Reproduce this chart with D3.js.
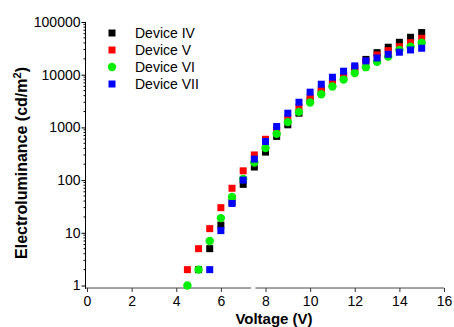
<!DOCTYPE html>
<html>
<head>
<meta charset="utf-8">
<script src="https://cdn.jsdelivr.net/npm/d3@7"></script>
<style>
  body { margin: 0; background: #fff; }
  text { font-family: "Liberation Sans", Arial, sans-serif; }
</style>
</head>
<body>
<svg class="el-chart" width="454" height="327"></svg>
<script>
// voltage steps (V)
var voltage = [4.5, 5, 5.5, 6, 6.5, 7, 7.5, 8, 8.5, 9, 9.5, 10, 10.5, 11, 11.5, 12, 12.5, 13, 13.5, 14, 14.5, 15];

// electroluminance (cd/m2), null = no point
var deviceIV  = [null, 2, 5, 14, 38, 83, 177, 340, 675, 1120, 1860, 3300, 4800, 6800, 9500, 13500, 19500, 26200, 33200, 41200, 51300, 63000];
var deviceV   = [2, 5, 12, 30, 70, 150, 300, 595, 900, 1500, 2420, 3750, 5310, 7220, 9490, 13200, 18000, 23700, 28600, 34000, 40500, 49200];
var deviceVI  = [1, 2, 7, 19, 48, 105, 216, 405, 755, 1260, 1970, 2960, 4270, 5960, 8080, 10800, 13900, 17500, 22000, 29500, 34000, 40500];
var deviceVII = [null, null, 2, 11, 36, 100, 250, 540, 1040, 1860, 3000, 4660, 6600, 8950, 11650, 14700, 18300, 20800, 24400, 26700, 29500, 31800];

var seriesNames = ["Device IV", "Device V", "Device VI", "Device VII"];
var seriesColors = ["#000000", "#ff0000", "#00ee00", "#0000ff"];
var seriesShapes = ["square", "square", "circle", "square"];

var xTicks = [0, 2, 4, 6, 8, 10, 12, 14, 16];
var yTicks = [1, 10, 100, 1000, 10000, 100000];

var svg = d3.select(".el-chart");

var x = d3.scaleLinear().domain([0, 16]).range([87, 444]);
var y = d3.scaleLog().domain([1, 100000]).range([285.5, 22]);

var axisY = 288;
var axisX = 85.5;

// y axis
var yAxis = d3.axisLeft(y)
    .tickValues(yTicks)
    .tickFormat(d3.format("d"))
    .tickSize(4)
    .tickSizeOuter(0);

var gy = svg.append("g")
    .attr("transform", "translate(" + axisX + ",0)")
    .call(yAxis);
gy.select(".domain").remove();
gy.selectAll("text").attr("font-size", 14).attr("fill", "#000").attr("x", -5);

// minor log ticks
var minor = [];
yTicks.slice(0, -1).forEach(function(d) {
    for (var k = 2; k < 10; k++) minor.push(d * k);
});
gy.selectAll(".minor")
    .data(minor)
    .enter().append("line")
    .attr("class", "minor")
    .attr("x1", -2).attr("x2", 0)
    .attr("y1", function(d) { return y(d); })
    .attr("y2", function(d) { return y(d); })
    .attr("stroke", "#000");

gy.append("line")
    .attr("x1", 0).attr("x2", 0)
    .attr("y1", y(100000)).attr("y2", axisY + 1)
    .attr("stroke", "#000");

// x axis (with a small break near 7.5 V)
var xAxis = d3.axisBottom(x)
    .tickValues(xTicks)
    .tickSize(4)
    .tickSizeOuter(0);

var gx = svg.append("g")
    .attr("transform", "translate(0," + axisY + ")")
    .call(xAxis);
gx.select(".domain").remove();
gx.selectAll("line").attr("stroke", "#333");
gx.selectAll("text").attr("font-size", 14).attr("fill", "#000").attr("y", 18).attr("dy", 0);

gx.append("line")
    .attr("x1", axisX).attr("x2", x(7.35))
    .attr("y1", 0).attr("y2", 0)
    .attr("stroke", "#444");
gx.append("line")
    .attr("x1", x(7.55)).attr("x2", x(16))
    .attr("y1", 0).attr("y2", 0)
    .attr("stroke", "#444");

// axis titles
svg.append("text")
    .attr("x", 274)
    .attr("y", 323.5)
    .attr("text-anchor", "middle")
    .attr("font-size", 15)
    .attr("font-weight", "bold")
    .text("Voltage (V)");

var yt = svg.append("text")
    .attr("transform", "translate(27,163) rotate(-90)")
    .attr("text-anchor", "middle")
    .attr("font-size", 16)
    .attr("font-weight", "bold");
yt.append("tspan").text("Electroluminance (cd/m");
yt.append("tspan").attr("dy", -6).attr("font-size", 11).text("2");
yt.append("tspan").attr("dy", 6).text(")");

// data points
var allSeries = [deviceIV, deviceV, deviceVI, deviceVII];

function drawMarker(sel, shape, color) {
    if (shape == "circle") {
        sel.append("circle").attr("r", 4.2).attr("fill", color);
    } else {
        sel.append("rect")
            .attr("x", -3.5).attr("y", -3.5)
            .attr("width", 7).attr("height", 7)
            .attr("fill", color);
    }
}

allSeries.forEach(function(values, i) {
    var pts = voltage.map(function(v, j) { return { v: v, l: values[j] }; })
        .filter(function(d) { return d.l != null; });

    var g = svg.append("g")
        .selectAll("g")
        .data(pts)
        .enter().append("g")
        .attr("transform", function(d) { return "translate(" + x(d.v) + "," + y(d.l) + ")"; });
    drawMarker(g, seriesShapes[i], seriesColors[i]);
});

// legend
var legend = svg.append("g")
    .selectAll("g")
    .data(seriesNames)
    .enter().append("g")
    .attr("transform", function(d, i) { return "translate(112," + (33 + i * 17) + ")"; });

legend.each(function(d, i) {
    drawMarker(d3.select(this), seriesShapes[i], seriesColors[i]);
});

legend.append("text")
    .attr("x", 23)
    .attr("dy", "0.35em")
    .attr("font-size", 14)
    .text(function(d) { return d; });
</script>
</body>
</html>
